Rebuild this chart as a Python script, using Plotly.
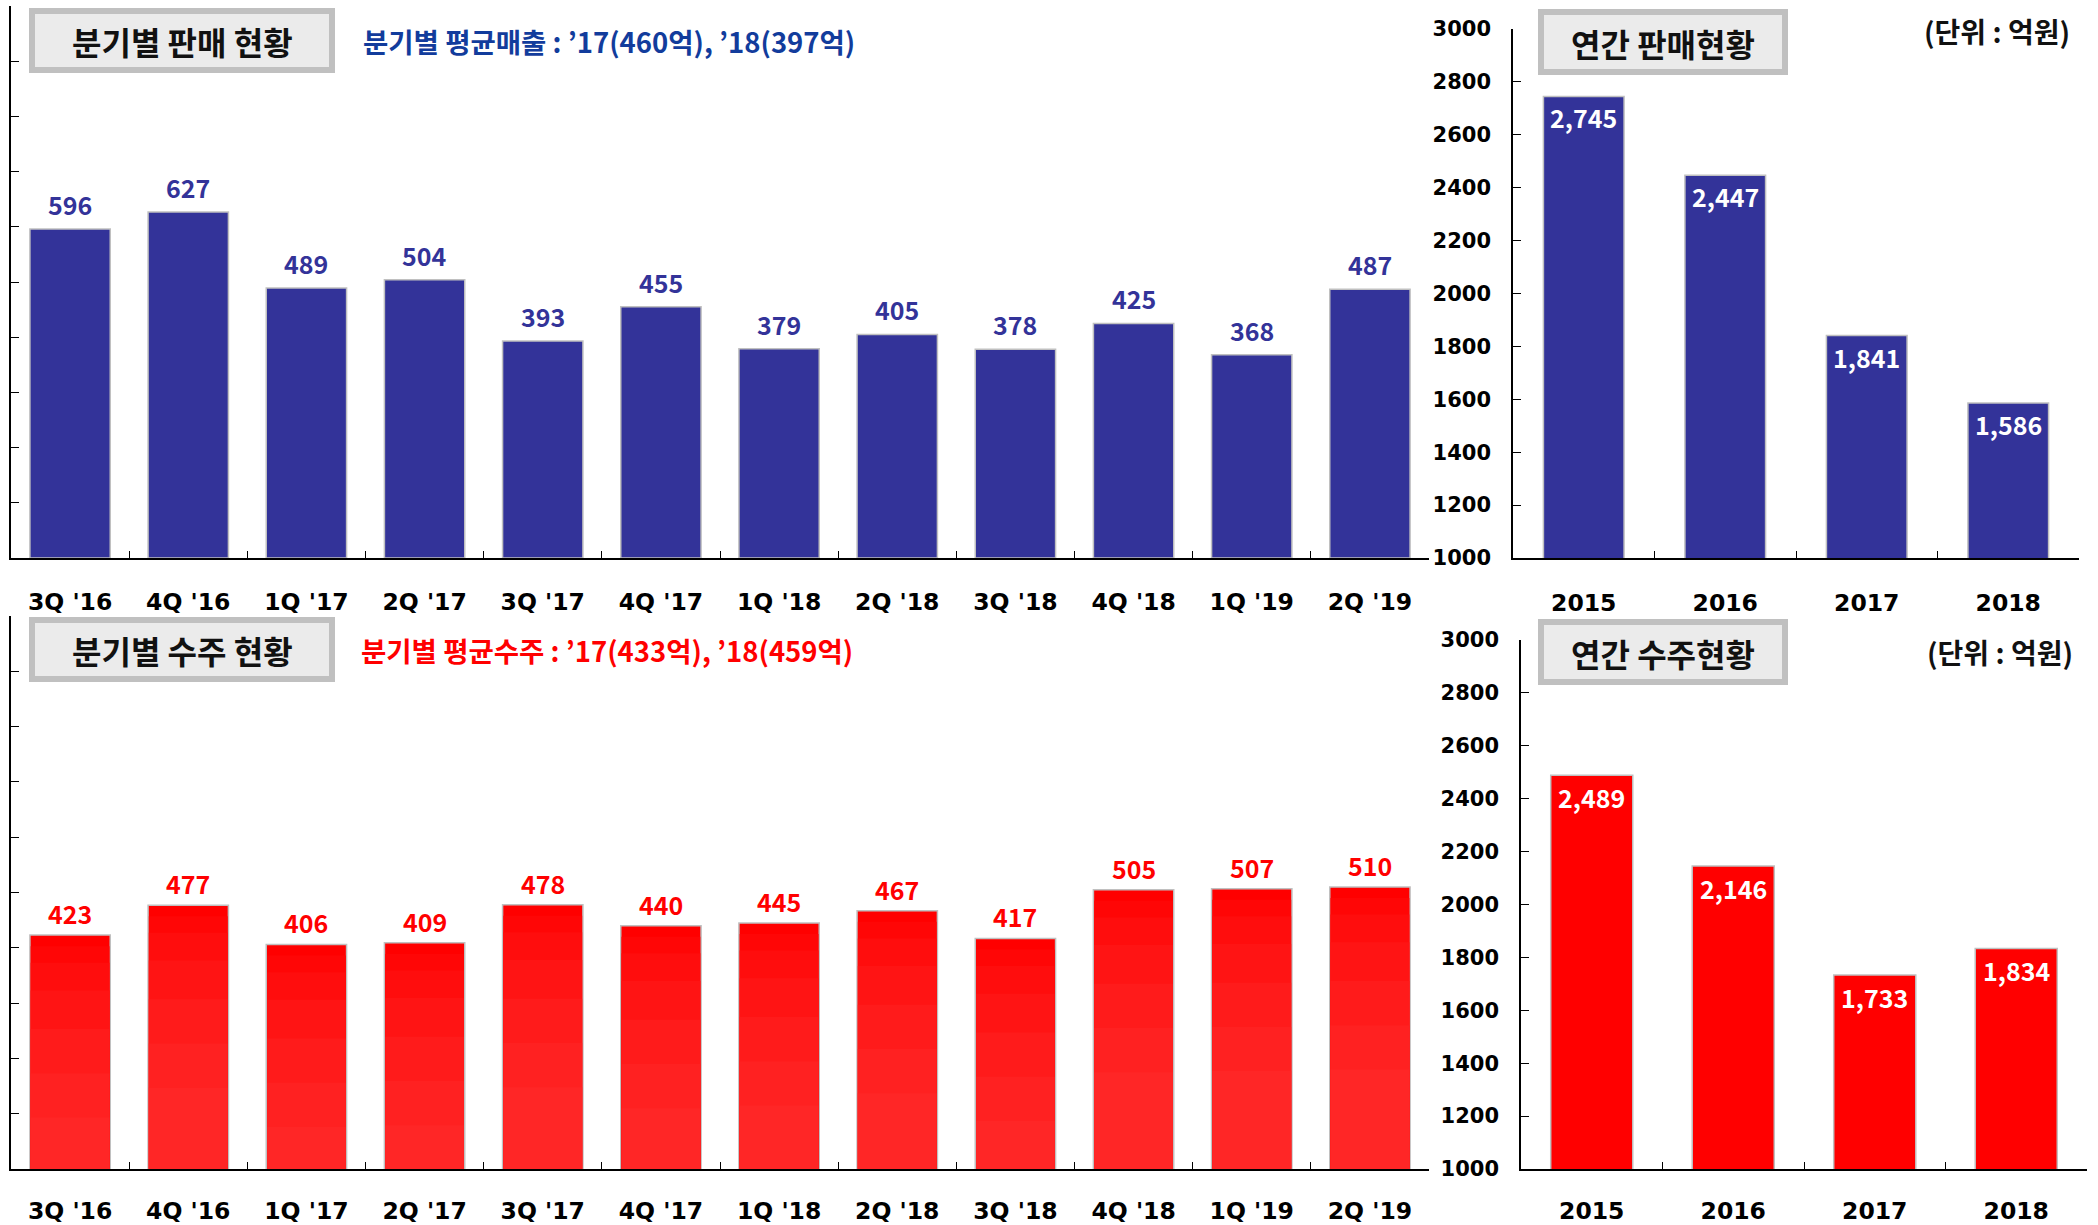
import plotly.graph_objects as go

# ---------------- data ----------------
quarters = ["3Q '16", "4Q '16", "1Q '17", "2Q '17", "3Q '17", "4Q '17",
            "1Q '18", "2Q '18", "3Q '18", "4Q '18", "1Q '19", "2Q '19"]
sales_q = [596, 627, 489, 504, 393, 455, 379, 405, 378, 425, 368, 487]
orders_q = [423, 477, 406, 409, 478, 440, 445, 467, 417, 505, 507, 510]
years = ["2015", "2016", "2017", "2018"]
sales_y = [2745, 2447, 1841, 1586]
orders_y = [2489, 2146, 1733, 1834]

title_sales_q = "분기별 판매 현황"
title_orders_q = "분기별 수주 현황"
title_sales_y = "연간 판매현황"
title_orders_y = "연간 수주현황"
sub_sales = "분기별 평균매출 : ’17(460억), ’18(397억)"
sub_orders = "분기별 평균수주 : ’17(433억), ’18(459억)"
unit_text = "(단위 : 억원)"

W, H = 2098, 1225
BLUE = "#333399"
RED = "#ff0000"
OUTLINE = "#c0c0c0"
NUM_FONT = "DejaVu Sans"
KR_FONT = "Noto Sans CJK KR"
# stepped vertical gradient for the quarterly order bars: (units cut from top, colour)
GRADIENT = [(20, "#ff0606"), (50, "#ff0d0d"), (100, "#ff1414"), (170, "#ff1b1b"),
            (250, "#ff2121"), (330, "#ff2626")]


def px(x):
    return x / W


def py(y):
    return 1 - y / H


fig = go.Figure()

bar_line = dict(color=OUTLINE, width=1.5)
fig.add_trace(go.Bar(x=quarters, y=sales_q, marker=dict(color=BLUE, line=bar_line),
                     xaxis="x", yaxis="y", width=0.68, hoverinfo="x+y"))
fig.add_trace(go.Bar(x=years, y=sales_y, marker=dict(color=BLUE, line=bar_line),
                     xaxis="x2", yaxis="y2", width=0.57, hoverinfo="x+y"))
fig.add_trace(go.Bar(x=quarters, y=orders_q, marker=dict(color=RED, line=bar_line),
                     xaxis="x3", yaxis="y3", width=0.68, hoverinfo="x+y"))
for cut, col in GRADIENT:
    fig.add_trace(go.Bar(x=quarters, y=[v - cut for v in orders_q],
                         marker=dict(color=col, line=dict(width=0)),
                         xaxis="x3", yaxis="y3", width=0.667, hoverinfo="skip"))
fig.add_trace(go.Bar(x=years, y=orders_y, marker=dict(color=RED, line=bar_line),
                     xaxis="x4", yaxis="y4", width=0.58, hoverinfo="x+y"))

annotations = []
# value labels (x given as category index on category axes)
for i, v in enumerate(sales_q):
    annotations.append(dict(x=i, y=v, xref="x", yref="y", text=str(v), showarrow=False,
                            yshift=25, font=dict(family=KR_FONT, size=25, color=BLUE, weight="bold")))
for i, v in enumerate(orders_q):
    annotations.append(dict(x=i, y=v, xref="x3", yref="y3", text=str(v), showarrow=False,
                            yshift=22, font=dict(family=KR_FONT, size=25, color=RED, weight="bold")))
for i, v in enumerate(sales_y):
    annotations.append(dict(x=i, y=v, xref="x2", yref="y2", text=f"{v:,}", showarrow=False,
                            yshift=-21, font=dict(family=KR_FONT, size=25, color="white", weight="bold")))
for i, v in enumerate(orders_y):
    annotations.append(dict(x=i, y=v, xref="x4", yref="y4", text=f"{v:,}", showarrow=False,
                            yshift=-22, font=dict(family=KR_FONT, size=25, color="white", weight="bold")))

# title boxes
shapes = []
boxes = [
    (32, 11, 332, 70, title_sales_q, 182, 41),
    (32, 620, 332, 679, title_orders_q, 182, 650),
    (1541, 12, 1785, 72, title_sales_y, 1663, 43),
    (1541, 622, 1785, 682, title_orders_y, 1663, 653),
]
for x0, y0, x1, y1, txt, cx, cy in boxes:
    shapes.append(dict(type="rect", xref="paper", yref="paper", x0=px(x0), x1=px(x1),
                       y0=py(y1), y1=py(y0), fillcolor="#ebebeb",
                       line=dict(color=OUTLINE, width=6), layer="above"))
    annotations.append(dict(x=px(cx), y=py(cy), xref="paper", yref="paper", text=txt,
                            showarrow=False, xanchor="center", yanchor="middle",
                            font=dict(family=KR_FONT, size=32, color="#111111", weight="bold")))

annotations.append(dict(x=px(361), y=py(41), xref="paper", yref="paper", text=sub_sales,
                        showarrow=False, xanchor="left", yanchor="middle",
                        font=dict(family=KR_FONT, size=27.5, color="#123c9c", weight="bold")))
annotations.append(dict(x=px(359), y=py(650), xref="paper", yref="paper", text=sub_orders,
                        showarrow=False, xanchor="left", yanchor="middle",
                        font=dict(family=KR_FONT, size=27.5, color=RED, weight="bold")))
annotations.append(dict(x=px(2072), y=py(31), xref="paper", yref="paper", text=unit_text,
                        showarrow=False, xanchor="right", yanchor="middle",
                        font=dict(family=KR_FONT, size=28, color="#111111", weight="bold")))
annotations.append(dict(x=px(2075), y=py(652), xref="paper", yref="paper", text=unit_text,
                        showarrow=False, xanchor="right", yanchor="middle",
                        font=dict(family=KR_FONT, size=28, color="#111111", weight="bold")))

xtick_font = dict(family=NUM_FONT, size=23.5, color="black", weight="bold")
ytick_font = dict(family=NUM_FONT, size=21, color="black", weight="bold")

common_x = dict(type="category", showline=True, linecolor="black", linewidth=1.5,
                ticks="inside", tickson="boundaries", ticklen=7, tickwidth=1.2,
                tickcolor="black", showgrid=False, zeroline=False, fixedrange=True,
                tickfont=xtick_font, automargin=False, tickangle=0)
common_y = dict(showline=True, linecolor="black", linewidth=1.5, ticks="inside",
                ticklen=8, tickwidth=1.2, tickcolor="black", showgrid=False,
                zeroline=False, fixedrange=True, automargin=False)

fig.update_layout(
    width=W, height=H, autosize=False,
    margin=dict(l=0, r=0, t=0, b=0, autoexpand=False),
    paper_bgcolor="white", plot_bgcolor="white",
    showlegend=False, barmode="overlay",
    annotations=annotations, shapes=shapes,
    xaxis=dict(domain=[px(11), px(1429)], anchor="y", range=[-0.5, 11.5],
               ticklabelstandoff=22, **common_x),
    yaxis=dict(domain=[py(558), py(6)], anchor="x", range=[0, 1000], dtick=100,
               showticklabels=False, **common_y),
    xaxis2=dict(domain=[px(1513), px(2079)], anchor="y2", range=[-0.5, 3.5],
                ticklabelstandoff=23, **common_x),
    yaxis2=dict(domain=[py(558), py(29)], anchor="x2", range=[1000, 3000], dtick=200,
                tickfont=ytick_font, ticklabelstandoff=16, **common_y),
    xaxis3=dict(domain=[px(11), px(1429)], anchor="y3", range=[-0.5, 11.5],
                ticklabelstandoff=20, **common_x),
    yaxis3=dict(domain=[py(1169), py(616)], anchor="x3", range=[0, 1000], dtick=100,
                showticklabels=False, **common_y),
    xaxis4=dict(domain=[px(1521), px(2087)], anchor="y4", range=[-0.5, 3.5],
                ticklabelstandoff=20, **common_x),
    yaxis4=dict(domain=[py(1169), py(640)], anchor="x4", range=[1000, 3000], dtick=200,
                tickfont=ytick_font, ticklabelstandoff=16, **common_y),
)

fig.write_html("out.html", config={"displayModeBar": False},
               post_script="document.body.style.margin='0';document.body.style.overflow='hidden';")
